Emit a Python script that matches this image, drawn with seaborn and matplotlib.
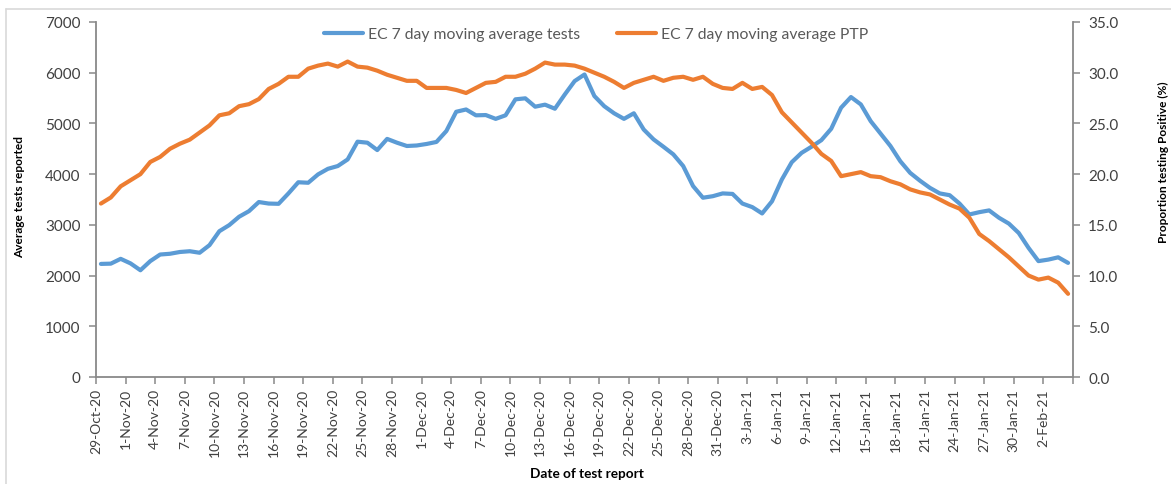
import matplotlib
matplotlib.use("Agg")
import matplotlib.pyplot as plt
import seaborn as sns
import numpy as np
import pandas as pd
from matplotlib.lines import Line2D

# ---------------- data ----------------
tick_labels = ["29-Oct-20", "1-Nov-20", "4-Nov-20", "7-Nov-20", "10-Nov-20", "13-Nov-20",
               "16-Nov-20", "19-Nov-20", "22-Nov-20", "25-Nov-20", "28-Nov-20", "1-Dec-20",
               "4-Dec-20", "7-Dec-20", "10-Dec-20", "13-Dec-20", "16-Dec-20", "19-Dec-20",
               "22-Dec-20", "25-Dec-20", "28-Dec-20", "31-Dec-20", "3-Jan-21", "6-Jan-21",
               "9-Jan-21", "12-Jan-21", "15-Jan-21", "18-Jan-21", "21-Jan-21", "24-Jan-21",
               "27-Jan-21", "30-Jan-21", "2-Feb-21"]

tests = [2230, 2235, 2330, 2240, 2105, 2285, 2415, 2430, 2465, 2480,
         2450, 2600, 2875, 2995, 3160, 3270, 3450, 3420, 3415, 3620,
         3840, 3830, 3995, 4105, 4160, 4290, 4640, 4620, 4475, 4695,
         4620, 4555, 4565, 4595, 4635, 4850, 5230, 5275, 5160, 5165,
         5090, 5160, 5475, 5495, 5330, 5370, 5290, 5570, 5835, 5965,
         5540, 5340, 5200, 5090, 5200, 4880, 4685, 4540, 4390, 4160,
         3765, 3535, 3565, 3620, 3610, 3420, 3350, 3225, 3465, 3895,
         4235, 4420, 4540, 4670, 4895, 5310, 5520, 5375, 5045, 4800,
         4555, 4255, 4025, 3870, 3730, 3620, 3585, 3420, 3205, 3250,
         3285, 3140, 3025, 2840, 2545, 2285, 2315, 2360, 2250]

ptp = [17.1, 17.7, 18.8, 19.4, 20.0, 21.2, 21.7, 22.5, 23.0, 23.4,
       24.1, 24.8, 25.8, 26.0, 26.7, 26.9, 27.4, 28.4, 28.9, 29.6,
       29.6, 30.4, 30.7, 30.9, 30.6, 31.1, 30.6, 30.5, 30.2, 29.8,
       29.5, 29.2, 29.2, 28.5, 28.5, 28.5, 28.3, 28.0, 28.5, 29.0,
       29.1, 29.6, 29.6, 29.9, 30.4, 31.0, 30.8, 30.8, 30.7, 30.4,
       30.0, 29.6, 29.1, 28.5, 29.0, 29.3, 29.6, 29.2, 29.5, 29.6,
       29.3, 29.6, 28.9, 28.5, 28.4, 29.0, 28.4, 28.6, 27.8, 26.1,
       25.1, 24.1, 23.1, 22.0, 21.3, 19.8, 20.0, 20.2, 19.8, 19.7,
       19.3, 19.0, 18.5, 18.2, 18.0, 17.5, 17.0, 16.6, 15.7, 14.1,
       13.4, 12.6, 11.8, 10.9, 10.0, 9.6, 9.8, 9.3, 8.2]

series_names = ["EC 7 day moving average tests", "EC 7 day moving average PTP"]

# ---------------- style ----------------
sns.set_theme(style="white")
plt.rcParams["font.family"] = ["Lato", "DejaVu Sans"]

BLUE = "#5B9BD5"
ORANGE = "#ED7D31"
AXIS = "#898989"
TXT = "#404040"
W, H = 1171, 485

n = len(tests)
df = pd.DataFrame({"day": np.arange(n) + 0.5, "tests": tests, "ptp": ptp})

fig = plt.figure(figsize=(W / 100, H / 100), dpi=100)
ax = fig.add_axes([96 / W, 1 - 378 / H, (1073 - 96) / W, (378 - 23) / H])
ax2 = ax.twinx()

sns.lineplot(data=df, x="day", y="tests", ax=ax, color=BLUE, lw=3.0, legend=False)
sns.lineplot(data=df, x="day", y="ptp", ax=ax2, color=ORANGE, lw=3.0, legend=False)

ax.set_xlim(0, n)
ax.set_ylim(0, 7000)
ax2.set_ylim(0, 35)
ax.set_yticks(np.arange(0, 7001, 1000))
ax.set_yticklabels([f"{v:d}" for v in range(0, 7001, 1000)])
ax2.set_yticks(np.arange(0, 35.1, 5))
ax2.set_yticklabels([f"{v:.1f}" for v in np.arange(0, 35.1, 5)])

xt = list(range(0, n + 1, 3))
ax.set_xticks(xt)
ax.set_xticklabels(tick_labels + [""] * (len(xt) - len(tick_labels)), rotation=90)

for a in (ax, ax2):
    for s in a.spines.values():
        s.set_visible(False)
    a.grid(False)
    a.set_xlabel("")
    a.set_ylabel("")
ax.spines["left"].set_visible(True)
ax.spines["bottom"].set_visible(True)
ax2.spines["right"].set_visible(True)
for s in (ax.spines["left"], ax.spines["bottom"], ax2.spines["right"]):
    s.set_color(AXIS)
    s.set_linewidth(1.3)

ax.tick_params(axis="y", which="major", direction="out", length=5, width=1.1, color=AXIS,
               labelsize=11, labelcolor=TXT, pad=6, left=True)
ax.tick_params(axis="x", which="major", direction="out", length=5, width=1.1, color=AXIS,
               labelsize=10, labelcolor=TXT, pad=3, bottom=True)
ax2.tick_params(axis="y", which="major", direction="out", length=5, width=1.1, color=AXIS,
                labelsize=11, labelcolor=TXT, pad=6, right=True)

fig.text(587 / W, 1 - 474 / H, "Date of test report", fontsize=9.8, fontweight="bold",
         color="black", ha="center", va="center")
fig.text(20 / W, 1 - 197 / H, "Average tests reported", fontsize=8.6, fontweight="bold",
         color="black", ha="center", va="center", rotation=90)
fig.text(1163 / W, 1 - 162 / H, "Proportion testing Positive (%)", fontsize=8.6, fontweight="bold",
         color="black", ha="center", va="center", rotation=90)

handles = [Line2D([0], [0], color=BLUE, lw=3.0), Line2D([0], [0], color=ORANGE, lw=3.0)]
leg = ax2.legend(handles, series_names, loc="center", bbox_to_anchor=(0.512, 0.966),
                 ncol=2, frameon=False, fontsize=11.3, handlelength=2.5,
                 handletextpad=0.35, columnspacing=2.3)
for t in leg.get_texts():
    t.set_color("#595959")

# light outer chart-area border (top & left visible)
fig.add_artist(Line2D([6 / W, 1.0], [1 - 10 / H, 1 - 10 / H], transform=fig.transFigure,
                      color="#D9D9D9", lw=1.2))
fig.add_artist(Line2D([6 / W, 6 / W], [0.0, 1 - 10 / H], transform=fig.transFigure,
                      color="#D9D9D9", lw=1.2))

fig.savefig("out.png", dpi=100)
